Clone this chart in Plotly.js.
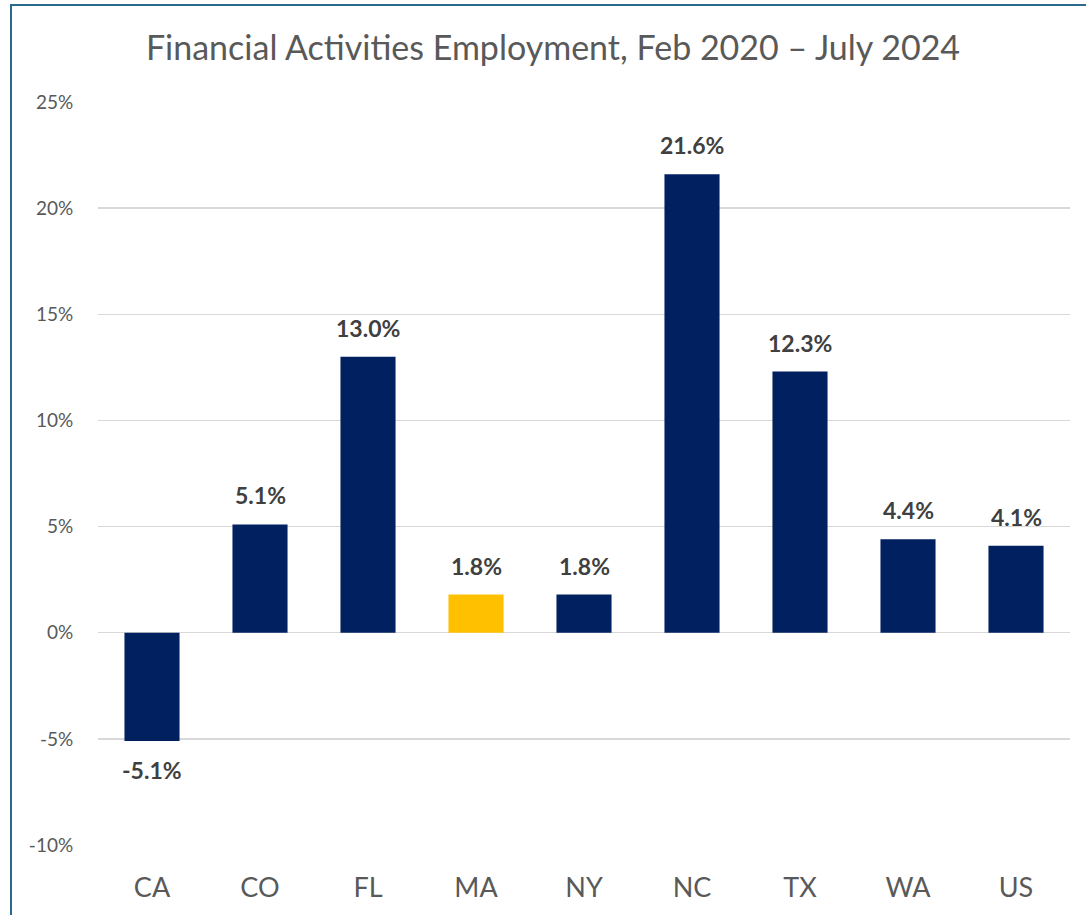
<!DOCTYPE html>
<html>
<head>
<meta charset="utf-8">
<script src="https://cdn.plot.ly/plotly-3.0.1.min.js"></script>
<style>
html,body{margin:0;padding:0;background:#fff;}
#wrap{position:relative;width:1086px;height:915px;overflow:hidden;}
#chart{position:absolute;left:0;top:0;width:1086px;height:915px;}
#frame{position:absolute;left:10px;top:4px;width:1100px;height:950px;border:2px solid #2a6a8c;box-sizing:border-box;pointer-events:none;}
</style>
</head>
<body>
<div id="wrap"><div id="chart"></div><div id="frame"></div></div>
<script>
const categories = ["CA","CO","FL","MA","NY","NC","TX","WA","US"];
const values = [-5.1, 5.1, 13.0, 1.8, 1.8, 21.6, 12.3, 4.4, 4.1];
const highlight = "MA";
const yTickVals = [-10, -5, 0, 5, 10, 15, 20, 25];
const yTickText = ["-10%", "-5%", "0%", "5%", "10%", "15%", "20%", "25%"];
const titleText = "Financial Activities Employment, Feb 2020 \u2013 July 2024";

const NAVY = "#002060", GOLD = "#FFC000";
const colors = categories.map(c => c === highlight ? GOLD : NAVY);
const fmt = v => (v < 0 ? "-" : "") + Math.abs(v).toFixed(1) + "%";

const FONT = "Lato, 'Open Sans', sans-serif";

const trace = {
  type: "bar",
  x: categories,
  y: values,
  marker: {color: colors, line: {width: 0}},
  hoverinfo: "skip"
};

const annotations = categories.map((c, i) => ({
  x: c, y: values[i], xref: "x", yref: "y",
  text: "<b>" + fmt(values[i]) + "</b>",
  showarrow: false,
  yanchor: values[i] < 0 ? "top" : "bottom",
  yshift: values[i] < 0 ? -13 : 13,
  font: {family: FONT, size: 23, color: "#404040"}
}));

const layout = {
  width: 1086, height: 915,
  margin: {l: 98, r: 16, t: 102, b: 70, pad: 0},
  paper_bgcolor: "#fff", plot_bgcolor: "#fff",
  showlegend: false,
  bargap: 0.49,
  title: {
    text: titleText,
    x: 553/1086, xref: "container", xanchor: "center",
    y: 1 - 48/915, yref: "container", yanchor: "middle",
    font: {family: FONT, size: 34, color: "#595959"}
  },
  xaxis: {
    showgrid: false, zeroline: false, showline: false,
    ticks: "outside", ticklen: 19, tickcolor: "rgba(0,0,0,0)",
    tickfont: {family: FONT, size: 27, color: "#595959"},
    fixedrange: true
  },
  yaxis: {
    range: [-10, 25],
    tickvals: yTickVals, ticktext: yTickText,
    showgrid: true, gridcolor: "#d9d9d9", gridwidth: 1.5,
    zeroline: true, zerolinecolor: "#d9d9d9", zerolinewidth: 1.5,
    showline: false,
    ticks: "outside", ticklen: 20, tickcolor: "rgba(0,0,0,0)",
    tickfont: {family: FONT, size: 19, color: "#595959"},
    fixedrange: true
  },
  annotations: annotations
};

Plotly.newPlot("chart", [trace], layout, {displayModeBar: false, staticPlot: true});
</script>
</body>
</html>
